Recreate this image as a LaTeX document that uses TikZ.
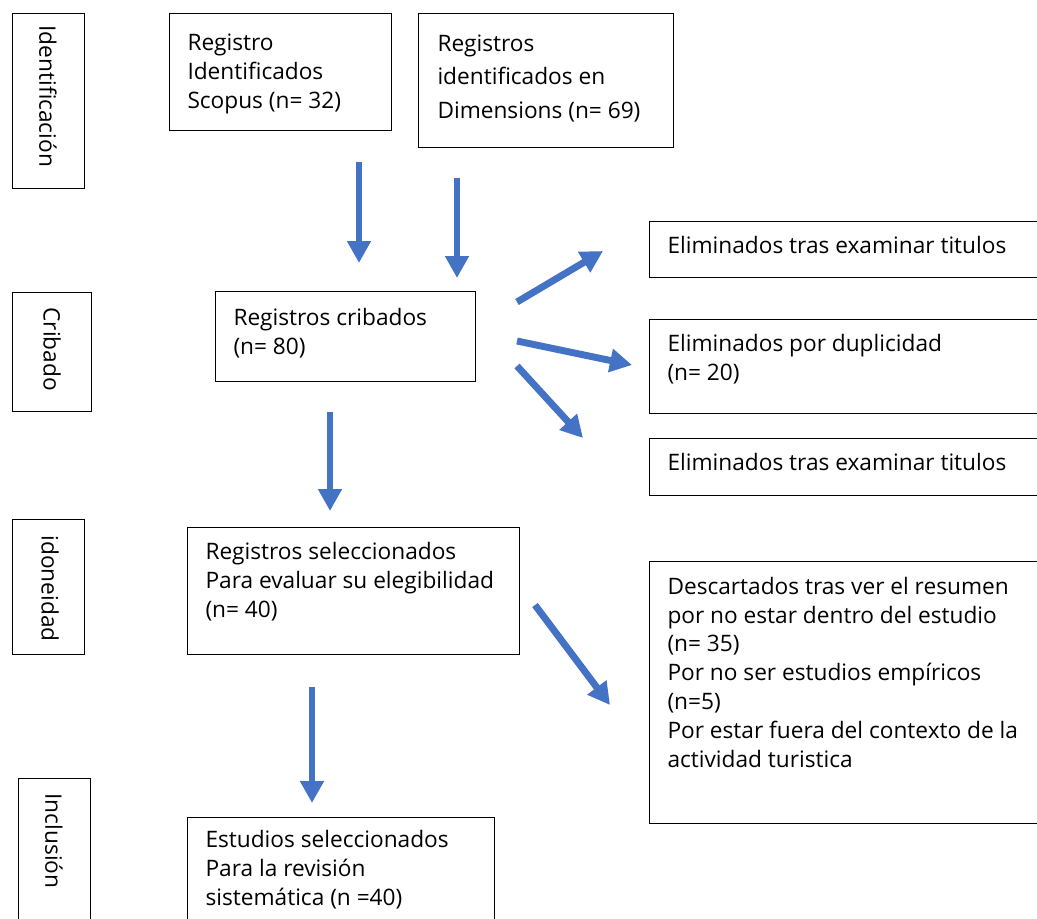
\documentclass[tikz,border=0pt]{standalone}
\usepackage{fontspec}
\setmainfont{Open Sans}
\usetikzlibrary{arrows.meta}

\tikzset{every picture/.style={line width=0.75pt}}
\tikzset{
  box/.style={draw, line width=1pt, anchor=north west, inner sep=0pt},
  txt/.style={anchor=base west, align=left, inner sep=0pt, font=\fontsize{17}{21.6}\selectfont},
  side/.style={anchor=west, rotate=-90, inner sep=0pt, font=\fontsize{17}{21.6}\selectfont},
  flow/.style={draw={rgb, 255:red, 68; green, 114; blue, 196}, line width=5.2pt,
    -{Triangle[length=16.5pt,width=17pt,fill={rgb, 255:red, 68; green, 114; blue, 196}]}},
}

\begin{document}
\begin{tikzpicture}[x=0.75pt,y=0.75pt,yscale=-1]
\useasboundingbox (0,0) rectangle (1037,918);

%Shape: Rectangle (stages)
\node[box, minimum width=54pt, minimum height=131.25pt] (ident) at (12,13) {};
\node[box, minimum width=59.25pt, minimum height=89.25pt] (crib) at (12,292) {};
\node[box, minimum width=54pt, minimum height=101.25pt] (idon) at (12,519) {};
\node[box, minimum width=54pt, minimum height=112.5pt] (incl) at (18,778) {};

%Shape: Rectangle (records)
\node[box, minimum width=166.5pt, minimum height=87.75pt] (scopus) at (169,13) {};
\node[box, minimum width=191.25pt, minimum height=100.5pt] (dimens) at (418,13) {};
\node[box, minimum width=195pt, minimum height=67.5pt] (cribados) at (215,291) {};
\node[box, minimum width=300pt, minimum height=42pt] (elimA) at (649,221) {};
\node[box, minimum width=300pt, minimum height=70.5pt] (elimdup) at (649,319) {};
\node[box, minimum width=300pt, minimum height=42.75pt] (elimB) at (649,438) {};
\node[box, minimum width=249pt, minimum height=95.25pt] (selec) at (187,527) {};
\node[box, minimum width=300pt, minimum height=196.5pt] (descart) at (649,561) {};
\node[box, minimum width=230.25pt, minimum height=90pt] (estud) at (187,817) {};

% Text Node
\node[side] (ident-t) at (48,25) {Identificación};
\node[side] (crib-t) at (52,307) {Cribado};
\node[side] (idon-t) at (50,535) {idoneidad};
\node[side] (incl-t) at (54,793) {Inclusión};

% Text Node (anchored at the baseline of the last line)
\node[txt] (scopus-t) at (187,108) {Registro\\Identificados\\Scopus (n= 32)};
\node[txt, font=\fontsize{17}{25}\selectfont] (dimens-t) at (437,118) {Registros\\identificados en\\Dimensions (n= 69)};
\node[txt] (cribados-t) at (233,354) {Registros cribados\\(n= 80)};
\node[txt] (elimA-t) at (667,253) {Eliminados tras examinar titulos};
\node[txt] (elimdup-t) at (667,380) {Eliminados por duplicidad\\(n= 20)};
\node[txt] (elimB-t) at (667,470) {Eliminados tras examinar titulos};
\node[txt] (selec-t) at (205,617) {Registros seleccionados\\Para evaluar su elegibilidad\\(n= 40)};
\node[txt] (descart-t) at (667,767) {Descartados tras ver el resumen\\por no estar dentro del estudio\\(n= 35)\\Por no ser estudios empíricos\\(n=5)\\Por estar fuera del contexto de la\\actividad turistica};
\node[txt] (estud-t) at (205,905) {Estudios seleccionados\\Para la revisión\\sistemática (n =40)};

%Straight Lines (arrow ends)
\coordinate (a1) at (359,162); \coordinate (b1) at (359,263);
\coordinate (a2) at (457,178); \coordinate (b2) at (457,278);
\coordinate (a3) at (517,302); \coordinate (b3) at (603,251);
\coordinate (a4) at (517,341); \coordinate (b4) at (632,365);
\coordinate (a5) at (517,366); \coordinate (b5) at (583,438);
\coordinate (a6) at (330,412); \coordinate (b6) at (330,511);
\coordinate (a7) at (535,605); \coordinate (b7) at (610,705);
\coordinate (a8) at (312,687); \coordinate (b8) at (312,803);

\foreach \i in {1,...,8}
  \draw[flow] (a\i) -- (b\i);

\end{tikzpicture}
\end{document}
